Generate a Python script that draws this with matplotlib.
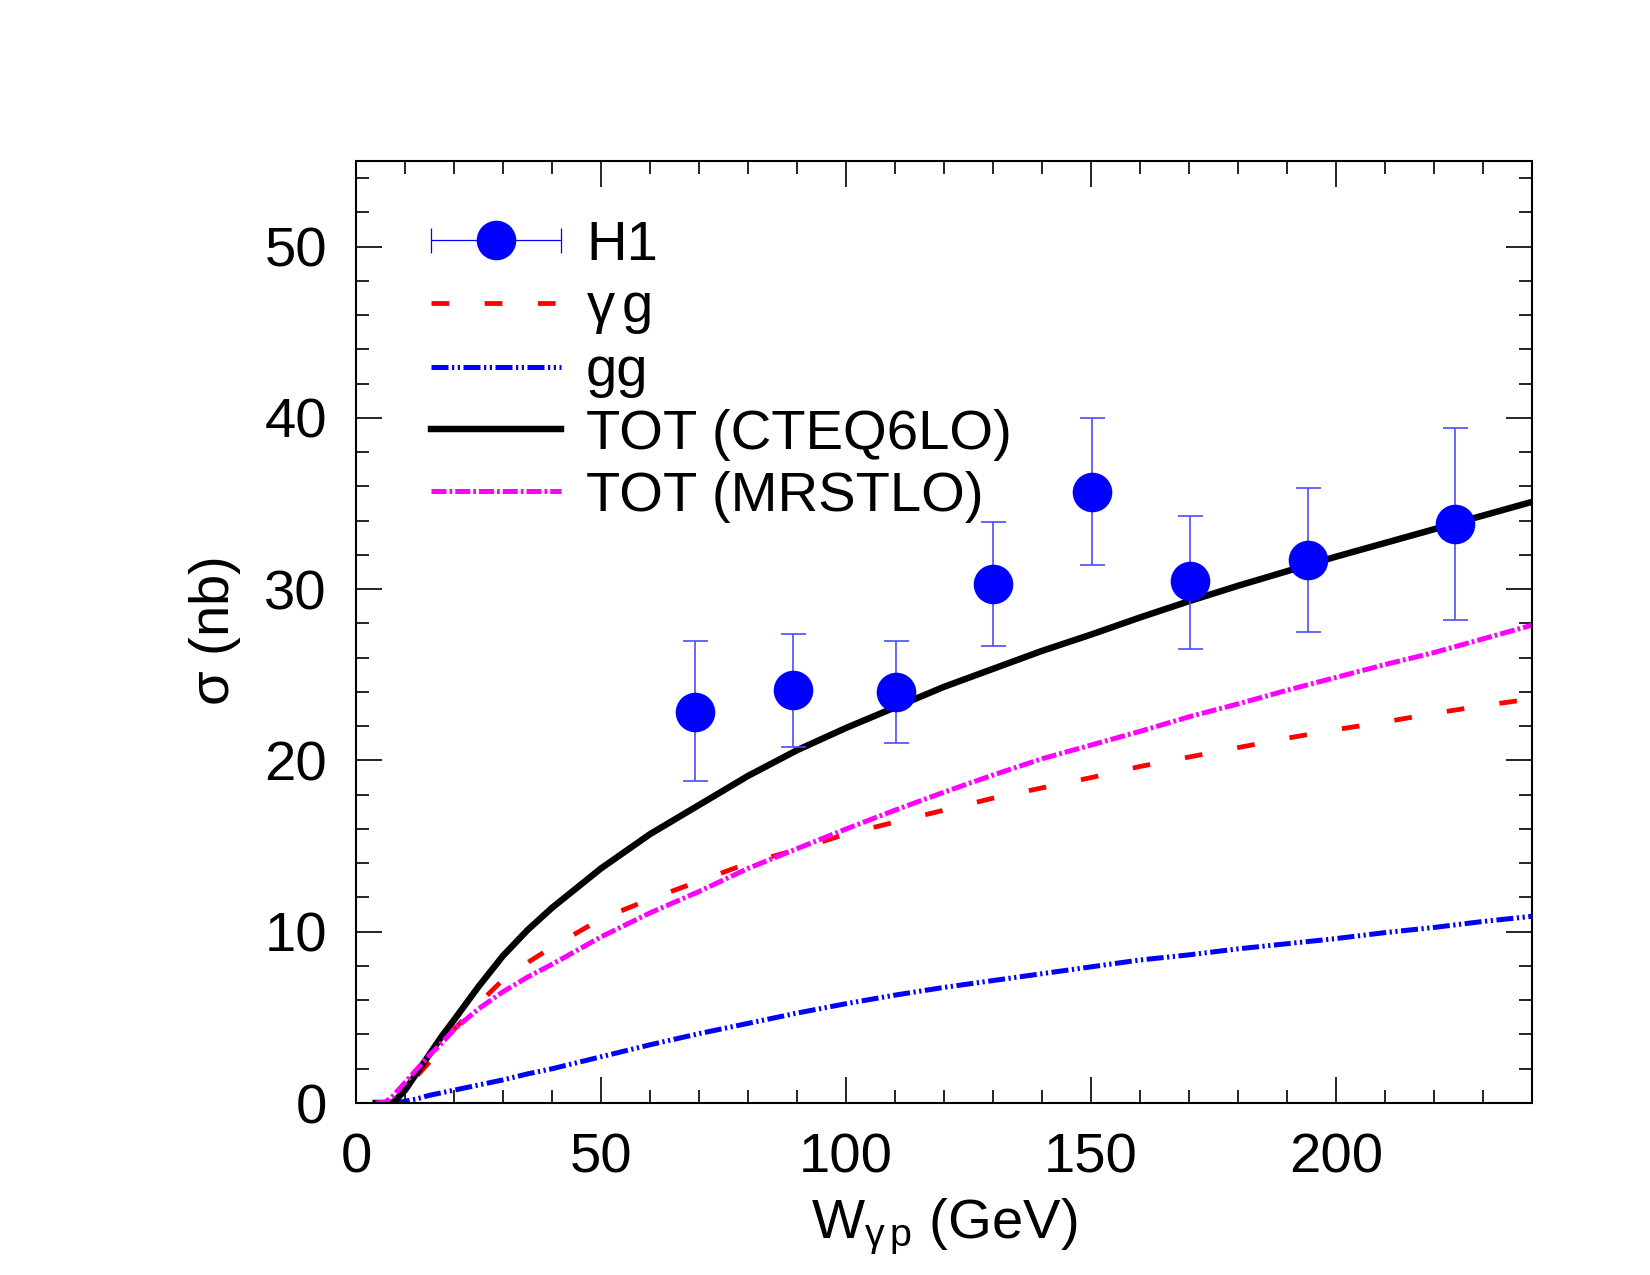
import numpy as np
import matplotlib
matplotlib.use("Agg")
import matplotlib.pyplot as plt
from matplotlib.legend_handler import HandlerErrorbar
from matplotlib.container import ErrorbarContainer
from matplotlib.ticker import MultipleLocator

plt.rcParams['font.family'] = ['Liberation Sans', 'DejaVu Sans']
plt.rcParams['mathtext.fontset'] = 'custom'
plt.rcParams['mathtext.rm'] = 'Liberation Sans'
plt.rcParams['mathtext.it'] = 'Liberation Sans'

# H1 data points (nb) with upper / lower error-bar ends
w_h1 = [69.1, 89.1, 110.1, 130.0, 150.2, 170.2, 194.2, 224.2]
sig_h1 = [22.85, 24.1, 24.0, 30.3, 35.7, 30.5, 31.7, 33.8]
err_up = [27.0, 27.4, 27.0, 33.9, 40.0, 34.3, 35.9, 39.4]
err_dn = [18.8, 20.8, 21.0, 26.7, 31.4, 26.5, 27.5, 28.2]

# theory curves
w = [4, 6, 7.5, 10, 12.5, 15, 17.5, 20, 25, 30, 35, 40, 50, 60, 70, 80, 90, 100,
     110, 120, 130, 140, 150, 160, 170, 180, 190, 200, 210, 220, 230, 240]
sig_gamg = [0, 0, 0.1, 0.8, 1.6, 2.4, 3.5, 4.3, 5.8, 7.2, 8.2, 9.1, 10.75, 11.9, 12.95,
            14.0, 14.8, 15.7, 16.4, 17.1, 17.8, 18.4, 19.0, 19.65, 20.2, 20.75, 21.3,
            21.8, 22.25, 22.75, 23.2, 23.6]
sig_gg = [np.nan, np.nan, 0, 0.1, 0.25, 0.45, 0.6, 0.75, 1.05, 1.35, 1.7, 2.0, 2.7, 3.4,
          4.05, 4.65, 5.25, 5.8, 6.3, 6.75, 7.15, 7.55, 7.95, 8.35, 8.65, 9.0, 9.3, 9.6,
          9.95, 10.25, 10.6, 10.9]
sig_cteq = [0, 0, 0, 0.75, 1.8, 2.85, 3.9, 4.85, 6.8, 8.6, 10.1, 11.4, 13.7, 15.7, 17.4,
            19.1, 20.6, 21.9, 23.1, 24.3, 25.35, 26.4, 27.35, 28.35, 29.3, 30.2, 31.05,
            31.9, 32.7, 33.5, 34.3, 35.1]
sig_mrst = [0, 0.05, 0.4, 1.2, 2.0, 2.8, 3.5, 4.3, 5.5, 6.5, 7.35, 8.1, 9.7, 11.1, 12.35,
            13.7, 14.85, 16.0, 17.1, 18.15, 19.15, 20.1, 20.9, 21.7, 22.55, 23.3, 24.1,
            24.85, 25.6, 26.3, 27.1, 27.9]

fig = plt.figure(figsize=(11, 8.5), dpi=150)
ax = fig.add_axes([0.2158, 0.1349, 0.7127, 0.7388])

sig_h1 = np.array(sig_h1)
yerr = [sig_h1 - np.array(err_dn), np.array(err_up) - sig_h1]
ax.errorbar(w_h1, sig_h1, yerr=yerr, fmt='o', color='blue', ms=18,
            ecolor='#4d4dff', elinewidth=0.8, capsize=6, capthick=0.8, zorder=5)
# legend proxy: horizontal bar like in the original key
h1 = ax.errorbar([np.nan], [np.nan], xerr=[1], fmt='o', color='blue', ms=18,
                 ecolor='blue', elinewidth=0.6, capsize=6, capthick=0.6, label='H1')

l_gamg, = ax.plot(w, sig_gamg, color='red', lw=2.3, dashes=(3.7, 7.4), label=r'$\gamma\,$g')
l_gg, = ax.plot(w, sig_gg, color='blue', lw=2.4,
                dashes=(3.4, 0.7, 0.45, 0.7, 0.45, 0.7), label='gg')
l_cteq, = ax.plot(w, sig_cteq, color='black', lw=3.1, label='TOT (CTEQ6LO)')
l_mrst, = ax.plot(w, sig_mrst, color='magenta', lw=2.4, dashes=(3.0, 0.6, 0.55, 0.6),
                  label='TOT (MRSTLO)')

ax.set_xlim(0, 240)
ax.set_ylim(0, 55)
ax.xaxis.set_major_locator(MultipleLocator(50))
ax.xaxis.set_minor_locator(MultipleLocator(10))
ax.yaxis.set_major_locator(MultipleLocator(10))
ax.yaxis.set_minor_locator(MultipleLocator(2))
ax.tick_params(which='both', direction='in', top=True, right=True, width=0.8,
               labelsize=27)
ax.tick_params(which='major', length=12.5, pad=14)
ax.tick_params(which='minor', length=6.2)
for s in ax.spines.values():
    s.set_linewidth(1.0)

ax.set_xlabel(r'W$_{\gamma\, \mathrm{p}}$ (GeV)', fontsize=27, labelpad=6)
ax.set_ylabel(r'$\sigma$ (nb)', fontsize=27, labelpad=10)

ax.legend(handles=[h1, l_gamg, l_gg, l_cteq, l_mrst],
          loc='upper left', bbox_to_anchor=(0.021, 0.991), frameon=False, fontsize=27,
          handlelength=2.3, handletextpad=0.45, labelspacing=0.18,
          handler_map={ErrorbarContainer: HandlerErrorbar(xerr_size=1.15)})

fig.savefig('out.png', dpi=150)
